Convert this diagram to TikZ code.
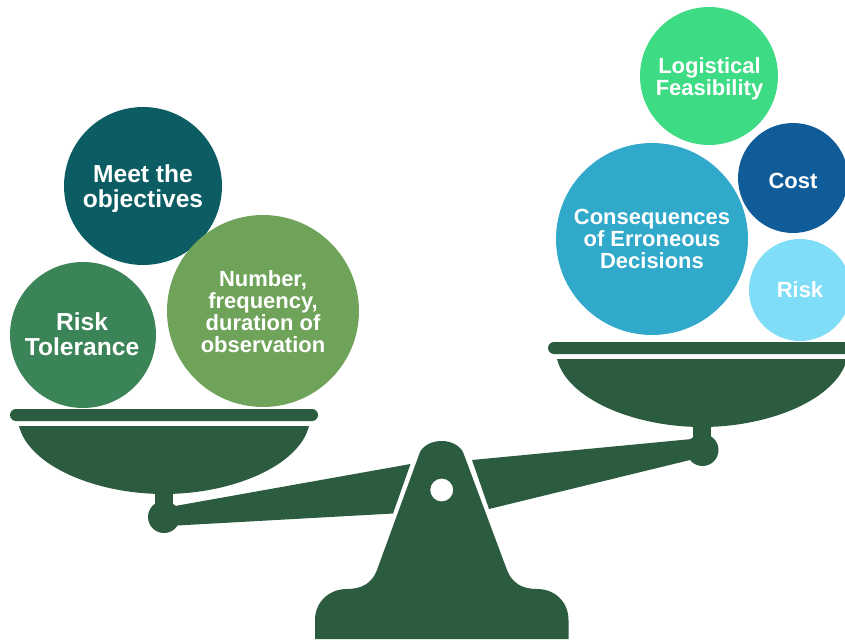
\documentclass[tikz,border=0pt]{standalone}
\usepackage{fontspec}
\setmainfont{Liberation Sans}
\definecolor{scalegreen}{HTML}{2B5C3F}
\definecolor{meetteal}{HTML}{0B5D63}
\definecolor{riskgreen}{HTML}{3B8457}
\definecolor{numgreen}{HTML}{6FA35A}
\definecolor{logmint}{HTML}{3DDC84}
\definecolor{costblue}{HTML}{0F5C99}
\definecolor{conscyan}{HTML}{31A9CB}
\definecolor{risksky}{HTML}{7FDDF8}
\tikzset{
  part/.style={fill=scalegreen, draw=none},
  bar/.style={fill=scalegreen, draw=none, rounded corners=0.12cm},
  ball/.style={circle, draw=none, inner sep=0pt},
  big/.style={text=white, align=center, inner sep=0pt, font=\bfseries\fontsize{14}{14}\selectfont},
  small/.style={text=white, align=center, inner sep=0pt, font=\bfseries\fontsize{12.5}{12.5}\selectfont},
}

\begin{document}
\begin{tikzpicture}[x=0.02cm, y=-0.02cm]
\clip (0,0) rectangle (845,639);
\fill[white] (0,0) rectangle (845,639);

% stand
\fill[part, even odd rule] (315,639) -- (315,620) .. controls (315,602) and (329,589) .. (347,589)
  .. controls (362,589) and (372,583) .. (377,570) -- (420,452)
  .. controls (424,445) and (432,441) .. (441.7,441) .. controls (451,441) and (459,445) .. (463,452)
  -- (507,570) .. controls (512,583) and (522,589) .. (537,589)
  .. controls (555,589) and (568.5,602) .. (568.5,620) -- (568.5,639) -- cycle
  (441.7,490) circle[radius=11.5];

% beam
\fill[part] (175,506) -- (410.5,464) -- (393,513.5) -- (177,525.5) -- cycle;
\fill[part] (472,460) -- (692,439) -- (690,460) -- (489,509) -- cycle;

% left pan
\fill[bar] (10,409) rectangle (318,421);
\fill[part] (19,426) -- (309,426) .. controls (299,466) and (232,494) .. (164,494)
  .. controls (96,494) and (29,466) .. (19,426) -- cycle;
\fill[part] (155,490) rectangle (173,515);
\fill[part] (164,517) circle[radius=16];

% right pan
\fill[bar] (548,342) rectangle (870,354);
\fill[part] (557,359) -- (847,359) .. controls (837,399) and (770,427) .. (702,427)
  .. controls (634,427) and (567,399) .. (557,359) -- cycle;
\fill[part] (693,423) rectangle (711,445);
\fill[part] (702.5,450) circle[radius=16];

% left weights
\node[ball, fill=meetteal, minimum size=3.16cm] (meet) at (143,186) {};
\node[ball, fill=riskgreen, minimum size=2.92cm] (tolerance) at (83,335) {};
\node[ball, fill=numgreen, minimum size=3.84cm] (number) at (263,311) {};
\node[big] (meettext) at (143,188.5) {Meet the\\objectives};
\node[big] (tolerancetext) at (82,334) {Risk\\Tolerance};
\node[small] (numbertext) at (263,311.5) {Number,\\frequency,\\duration of\\observation};

% right weights
\node[ball, fill=logmint, minimum size=2.76cm] (logistical) at (709,76) {};
\node[ball, fill=costblue, minimum size=2.2cm] (cost) at (793,178) {};
\node[ball, fill=conscyan, minimum size=3.84cm] (consequences) at (652,239) {};
\node[ball, fill=risksky, minimum size=2.04cm] (risk) at (800,290) {};
\node[small] (logisticaltext) at (709.5,79) {Logistical\\Feasibility};
\node[small] (costtext) at (793,181) {Cost};
\node[small] (consequencestext) at (652,239) {Consequences\\of Erroneous\\Decisions};
\node[small] (risktext) at (800,290) {Risk};
\end{tikzpicture}
\end{document}
